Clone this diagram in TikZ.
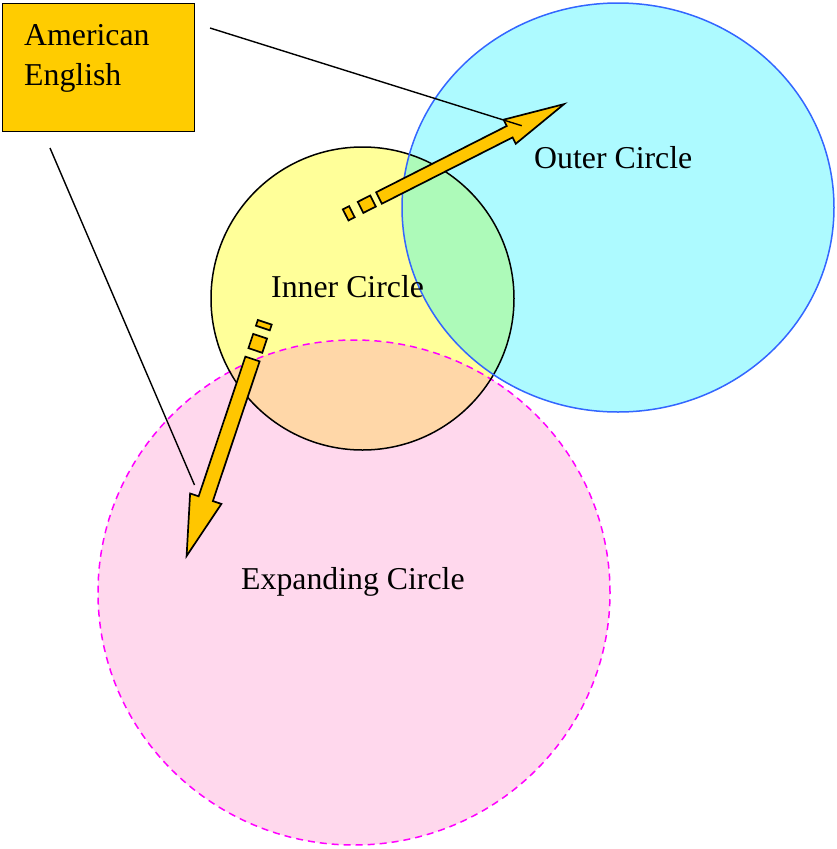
\documentclass[tikz,border=0pt]{standalone}
\usepackage{fontspec}
\setmainfont{Liberation Serif}
\definecolor{yellowfill}{HTML}{FFFF99}
\definecolor{cyanhatch}{HTML}{00F0FF}
\definecolor{pinkhatch}{HTML}{FF88C8}
\definecolor{blueline}{HTML}{3366FF}
\definecolor{pinkline}{HTML}{FF00FF}
\definecolor{arrowgold}{HTML}{FFC600}
\definecolor{boxgold}{HTML}{FFCC00}
\begin{document}
\begin{tikzpicture}[x=1pt,y=-1pt]
\tikzset{
  lbl/.style={font=\fontsize{31.8}{40}\selectfont, inner sep=0pt, anchor=base west},
  arrowbody/.style={fill=arrowgold, draw=black, line width=1.7pt, line join=miter},
  callout/.style={draw=black, line width=1.4pt},
  circleline/.style={line width=1.5pt},
}
\useasboundingbox (0,0) rectangle (837,849);
% fills
\fill[yellowfill] (362.5,298.5) circle [radius=151.5pt];
\fill[pinkhatch, fill opacity=0.33] (354,592.5) ellipse [x radius=256pt, y radius=252.5pt];
\fill[cyanhatch, fill opacity=0.32] (618,207.5) ellipse [x radius=216pt, y radius=204.5pt];
% borders
\draw[circleline, pinkline, dash pattern=on 7pt off 5pt] (354,592.5) ellipse [x radius=256pt, y radius=252.5pt];
\draw[circleline, black] (362.5,298.5) circle [radius=151.5pt];
\draw[circleline, blueline] (618,207.5) ellipse [x radius=216pt, y radius=204.5pt];
% labels
\node[lbl] (outer) at (534,168.5) {Outer Circle};
\node[lbl] (inner) at (271,297.5) {Inner Circle};
\node[lbl] (expanding) at (241,589) {Expanding Circle};
% striped arrow to outer circle
\begin{scope}[shift={(379,198)}, rotate=26.9]
  \draw[arrowbody] (0,-6.4) -- (146.5,-6.4) -- (146.5,-13.5) -- (207.5,0) -- (146.5,13.5) -- (146.5,6.4) -- (0,6.4) -- cycle;
  \draw[arrowbody] (-20.7,-6.2) rectangle (-6.7,6.2);
  \draw[arrowbody] (-37.4,-6.2) rectangle (-30.4,6.2);
\end{scope}
% striped arrow to expanding circle
\begin{scope}[shift={(252.5,359)}, rotate=-108.5]
  \draw[arrowbody] (0,-7.5) -- (147.3,-7.5) -- (147.3,-16.5) -- (207.7,0) -- (147.3,16.5) -- (147.3,7.5) -- (0,7.5) -- cycle;
  \draw[arrowbody] (-24,-7.3) rectangle (-9,7.3);
  \draw[arrowbody] (-38.7,-7.3) rectangle (-32.7,7.3);
\end{scope}
% box
\node[draw=black, fill=boxgold, line width=1.4pt, minimum width=192pt, minimum height=128pt, inner sep=0pt, anchor=north west] (box) at (2,3) {};
\node[lbl] (boxline1) at (24,45) {American};
\node[lbl] (boxline2) at (24,85) {English};
% callout lines
\coordinate (c1s) at (210,28);
\coordinate (c1e) at (521.7,125.7);
\coordinate (c2s) at (50,148);
\coordinate (c2e) at (194.5,485);
\draw[callout] (c1s) -- (c1e);
\draw[callout] (c2s) -- (c2e);
\end{tikzpicture}
\end{document}
